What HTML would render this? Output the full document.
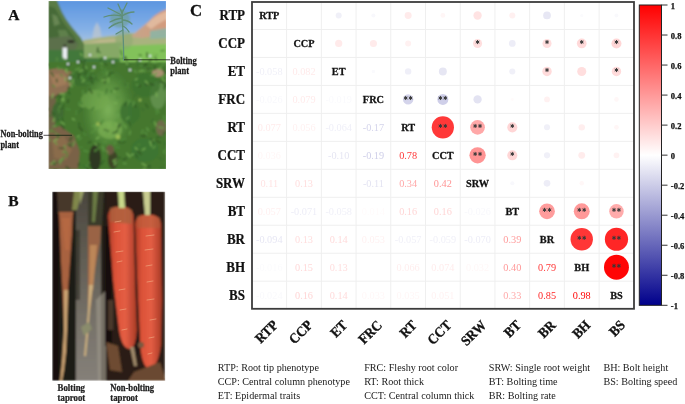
<!DOCTYPE html>
<html><head><meta charset="utf-8"><style>
html,body{margin:0;padding:0;background:#fff;}
body{width:685px;height:404px;position:relative;overflow:hidden;font-family:"Liberation Serif",serif;}
svg text{font-family:"Liberation Serif",serif;}
</style></head><body>
<svg width="685" height="404" style="position:absolute;left:0;top:0"><defs>
<clipPath id="ca"><rect x="48.5" y="1" width="117.5" height="168"/></clipPath>
<clipPath id="cbp"><rect x="52.2" y="191.7" width="113" height="189"/></clipPath>
<filter id="bl" x="-5%" y="-5%" width="110%" height="110%"><feGaussianBlur stdDeviation="1.0"/></filter>
<filter id="bl05" x="-20%" y="-20%" width="140%" height="140%"><feGaussianBlur stdDeviation="0.5"/></filter>
<linearGradient id="sky" x1="0" y1="0" x2="0" y2="1"><stop offset="0" stop-color="#5b95e0"/><stop offset="0.6" stop-color="#84b0e6"/><stop offset="1" stop-color="#b4c9de"/></linearGradient>
<radialGradient id="rgA"><stop offset="0" stop-color="#7fb45a" stop-opacity="0.95"/><stop offset="0.6" stop-color="#6aa24a" stop-opacity="0.6"/><stop offset="1" stop-color="#5a9440" stop-opacity="0"/></radialGradient>
<linearGradient id="mtn" x1="0" y1="0" x2="1" y2="0"><stop offset="0" stop-color="#c4a68c"/><stop offset="1" stop-color="#d49a7c"/></linearGradient>
<linearGradient id="car" x1="0" y1="0" x2="1" y2="0"><stop offset="0" stop-color="#a83a26"/><stop offset="0.25" stop-color="#dc5238"/><stop offset="0.6" stop-color="#e45e44"/><stop offset="1" stop-color="#a83a26"/></linearGradient>
<linearGradient id="gray" x1="0" y1="0" x2="0" y2="1"><stop offset="0" stop-color="#4a463e"/><stop offset="0.3" stop-color="#5e5a50"/><stop offset="0.7" stop-color="#77726a"/><stop offset="1" stop-color="#858079"/></linearGradient>
</defs><g clip-path="url(#ca)"><g filter="url(#bl)">
<rect x="48" y="0" width="119" height="170" fill="#44782f"/>
<rect x="48" y="0" width="119" height="48" fill="url(#sky)"/>
<path d="M92,40 L94,28 L97,22 L100,28 L102,40 Z" fill="#b9c4cf" opacity="0.8"/>
<path d="M76,46 L84,40 L96,38 L110,36 L122,35 L132,33 L167,33 L167,52 L76,52 Z" fill="#a8b37e"/>
<path d="M84,44 L100,40 L116,39 L116,50 L84,50 Z" fill="#c2b890" opacity="0.8"/>
<path d="M130,37 L136,32 L142,27 L148,22 L154,16 L160,12 L167,9 L167,34 L142,38 Z" fill="url(#mtn)"/>
<path d="M146,25 L152,19 L158,15 L167,11 L167,19 L158,24 L151,29 Z" fill="#e8c4aa" opacity="0.7"/>
<path d="M150,31 L167,28 L167,38 L150,39 Z" fill="#8db4a4" opacity="0.9"/>
<path d="M48,0 L57,0 L59,5 L62,12 L66,19 L71,26 L76,32 L81,38 L84,44 L84,52 L48,52 Z" fill="#5a7c44"/>
<path d="M48,6 L55,8 L59,15 L63,22 L69,30 L74,36 L78,44 L48,48 Z" fill="#466a38"/>
<path d="M52,14 L57,16 L60,24 L54,26 Z" fill="#6f8d5a" opacity="0.8"/>
<path d="M58,30 L66,30 L70,38 L60,40 Z" fill="#6a8a56" opacity="0.7"/>
<path d="M48,38 L70,36 L78,44 L74,52 L48,52 Z" fill="#5c6f4c"/>
<rect x="48" y="50" width="119" height="14" fill="#43783a"/>
<path d="M84,44 L122,42 L124,58 L84,58 Z" fill="#86a866"/>
<path d="M120,46 L167,44 L167,62 L120,62 Z" fill="#82c25a"/>
<rect x="62.6" y="47.5" width="4.4" height="11.5" fill="#eceff4"/>
<ellipse cx="64.8" cy="45.8" rx="1.5" ry="1.5" fill="#3a3a30"/>
<ellipse cx="71" cy="41.5" rx="3.6" ry="1.5" fill="#2a2a22"/>
<rect x="48" y="62" width="119" height="108" fill="#44772f"/>
<path d="M48,70 L58,68 L72,72 L72,84 L66,92 L56,96 L48,96 Z" fill="#8e7052"/>
<path d="M50,74 L64,74 L67,84 L54,88 Z" fill="#a07c5a"/>
<path d="M48,96 L56,96 L55,128 L48,130 Z" fill="#6e6444"/>
<path d="M48,130 L60,126 L74,136 L80,152 L78,169 L48,169 Z" fill="#7a6246"/>
<path d="M52,140 L64,136 L72,150 L66,160 L54,158 Z" fill="#8a6c4c"/>
<ellipse cx="58" cy="112" rx="6" ry="10" fill="#3f6a30"/>
<ellipse cx="108" cy="110" rx="26" ry="42" fill="url(#rgA)"/>
<ellipse cx="95" cy="100" rx="14" ry="10" fill="#74aa50" opacity="0.6"/>
<ellipse cx="110" cy="130" rx="12" ry="9" fill="#80b456" opacity="0.6"/>
<ellipse cx="158" cy="95" rx="8" ry="14" fill="#6c9a58" opacity="0.7"/>
<ellipse cx="146" cy="85" rx="14" ry="12" fill="#3d7230" opacity="0.8"/>
<ellipse cx="82" cy="78" rx="14" ry="8" fill="#3c6e2e" opacity="0.8"/>
<ellipse cx="95" cy="158" rx="6" ry="13" fill="#2e3822"/>
<ellipse cx="113" cy="160" rx="5" ry="9" fill="#3c4428"/>
<ellipse cx="110" cy="150" rx="4" ry="5" fill="#6a5a40"/>
<ellipse cx="161" cy="128" rx="5" ry="8" fill="#6e6a48"/>
<ellipse cx="158" cy="73" rx="6" ry="4" fill="#a89070"/>
<ellipse cx="145" cy="150" rx="14" ry="12" fill="#3c7430"/>
<ellipse cx="130" cy="112" rx="10" ry="12" fill="#3d7230" opacity="0.9"/>
<path d="M86.5,68.1 l-1.3,-1.8" stroke="#7cb456" stroke-width="1.4" stroke-linecap="round" opacity="0.85"/>
<path d="M59.2,119.9 l2.2,-1.4" stroke="#2f5a24" stroke-width="1.4" stroke-linecap="round" opacity="0.85"/>
<path d="M99.6,58.4 l2.8,1.8" stroke="#4f8a3a" stroke-width="1.4" stroke-linecap="round" opacity="0.85"/>
<path d="M115.3,163.7 l-2.6,-2.7" stroke="#2f5a24" stroke-width="1.4" stroke-linecap="round" opacity="0.85"/>
<path d="M116.7,97.6 l2.1,-0.3" stroke="#4f8a3a" stroke-width="1.4" stroke-linecap="round" opacity="0.85"/>
<path d="M63.8,100.3 l-3.6,-0.9" stroke="#7cb456" stroke-width="1.4" stroke-linecap="round" opacity="0.85"/>
<path d="M145.1,71.7 l-3.4,-1.9" stroke="#5a9440" stroke-width="1.4" stroke-linecap="round" opacity="0.85"/>
<path d="M59.6,135.5 l-3.5,-1.5" stroke="#68a24a" stroke-width="1.4" stroke-linecap="round" opacity="0.85"/>
<path d="M129.0,101.3 l-1.5,3.5" stroke="#68a24a" stroke-width="1.4" stroke-linecap="round" opacity="0.85"/>
<path d="M91.0,79.8 l1.9,3.9" stroke="#2f5a24" stroke-width="1.4" stroke-linecap="round" opacity="0.85"/>
<path d="M116.4,113.0 l3.0,-3.0" stroke="#5a9440" stroke-width="1.4" stroke-linecap="round" opacity="0.85"/>
<path d="M120.5,58.8 l-2.5,-0.2" stroke="#5a9440" stroke-width="1.4" stroke-linecap="round" opacity="0.85"/>
<path d="M66.1,108.7 l3.9,1.0" stroke="#4f8a3a" stroke-width="1.4" stroke-linecap="round" opacity="0.85"/>
<path d="M114.4,144.7 l1.3,-2.7" stroke="#5a9440" stroke-width="1.4" stroke-linecap="round" opacity="0.85"/>
<path d="M118.7,119.6 l-4.3,1.2" stroke="#5a9440" stroke-width="1.4" stroke-linecap="round" opacity="0.85"/>
<path d="M104.4,129.7 l3.8,1.5" stroke="#2c4c22" stroke-width="1.4" stroke-linecap="round" opacity="0.85"/>
<path d="M116.8,131.7 l-3.9,1.4" stroke="#2c4c22" stroke-width="1.4" stroke-linecap="round" opacity="0.85"/>
<path d="M89.3,162.9 l-2.4,3.0" stroke="#68a24a" stroke-width="1.4" stroke-linecap="round" opacity="0.85"/>
<path d="M55.0,142.2 l1.9,2.0" stroke="#68a24a" stroke-width="1.4" stroke-linecap="round" opacity="0.85"/>
<path d="M157.1,109.6 l1.6,2.8" stroke="#5a9440" stroke-width="1.4" stroke-linecap="round" opacity="0.85"/>
<path d="M153.1,148.3 l1.9,-2.1" stroke="#68a24a" stroke-width="1.4" stroke-linecap="round" opacity="0.85"/>
<path d="M165.4,131.9 l-2.0,1.8" stroke="#2f5a24" stroke-width="1.4" stroke-linecap="round" opacity="0.85"/>
<path d="M69.0,77.8 l0.4,3.4" stroke="#7cb456" stroke-width="1.4" stroke-linecap="round" opacity="0.85"/>
<path d="M69.7,83.8 l2.2,2.9" stroke="#7cb456" stroke-width="1.4" stroke-linecap="round" opacity="0.85"/>
<path d="M115.4,164.4 l-1.3,-3.3" stroke="#7cb456" stroke-width="1.4" stroke-linecap="round" opacity="0.85"/>
<path d="M125.9,138.8 l-4.4,1.2" stroke="#4f8a3a" stroke-width="1.4" stroke-linecap="round" opacity="0.85"/>
<path d="M129.0,117.1 l-2.6,1.9" stroke="#68a24a" stroke-width="1.4" stroke-linecap="round" opacity="0.85"/>
<path d="M123.5,57.5 l2.4,1.1" stroke="#3b6d2d" stroke-width="1.4" stroke-linecap="round" opacity="0.85"/>
<path d="M61.1,122.1 l3.0,2.2" stroke="#7cb456" stroke-width="1.4" stroke-linecap="round" opacity="0.85"/>
<path d="M60.1,93.6 l4.6,0.7" stroke="#7cb456" stroke-width="1.4" stroke-linecap="round" opacity="0.85"/>
<path d="M92.8,126.1 l3.7,-1.1" stroke="#68a24a" stroke-width="1.4" stroke-linecap="round" opacity="0.85"/>
<path d="M62.6,151.9 l3.4,-0.1" stroke="#68a24a" stroke-width="1.4" stroke-linecap="round" opacity="0.85"/>
<path d="M85.1,67.3 l-0.0,-4.2" stroke="#68a24a" stroke-width="1.4" stroke-linecap="round" opacity="0.85"/>
<path d="M146.6,69.4 l4.8,0.7" stroke="#7cb456" stroke-width="1.4" stroke-linecap="round" opacity="0.85"/>
<path d="M91.0,132.8 l3.7,-2.2" stroke="#5a9440" stroke-width="1.4" stroke-linecap="round" opacity="0.85"/>
<path d="M164.4,153.6 l-0.9,-2.6" stroke="#5a9440" stroke-width="1.4" stroke-linecap="round" opacity="0.85"/>
<path d="M156.1,92.7 l0.6,3.6" stroke="#7cb456" stroke-width="1.4" stroke-linecap="round" opacity="0.85"/>
<path d="M87.2,76.8 l1.9,-4.6" stroke="#4f8a3a" stroke-width="1.4" stroke-linecap="round" opacity="0.85"/>
<path d="M71.2,78.7 l-3.6,2.6" stroke="#3b6d2d" stroke-width="1.4" stroke-linecap="round" opacity="0.85"/>
<path d="M109.6,92.7 l2.0,0.4" stroke="#5a9440" stroke-width="1.4" stroke-linecap="round" opacity="0.85"/>
<path d="M104.2,73.2 l-2.4,-1.9" stroke="#4f8a3a" stroke-width="1.4" stroke-linecap="round" opacity="0.85"/>
<path d="M159.5,168.6 l3.0,-0.9" stroke="#3b6d2d" stroke-width="1.4" stroke-linecap="round" opacity="0.85"/>
<path d="M60.2,106.4 l-1.8,2.9" stroke="#7cb456" stroke-width="1.4" stroke-linecap="round" opacity="0.85"/>
<path d="M148.0,107.5 l-2.5,-3.6" stroke="#2f5a24" stroke-width="1.4" stroke-linecap="round" opacity="0.85"/>
<path d="M147.3,64.4 l-3.2,2.7" stroke="#3b6d2d" stroke-width="1.4" stroke-linecap="round" opacity="0.85"/>
<path d="M104.9,71.4 l0.7,-2.9" stroke="#4f8a3a" stroke-width="1.4" stroke-linecap="round" opacity="0.85"/>
<path d="M160.6,136.6 l-4.1,1.0" stroke="#2f5a24" stroke-width="1.4" stroke-linecap="round" opacity="0.85"/>
<path d="M134.3,70.4 l1.7,1.8" stroke="#68a24a" stroke-width="1.4" stroke-linecap="round" opacity="0.85"/>
<path d="M144.0,67.5 l2.3,-4.4" stroke="#2c4c22" stroke-width="1.4" stroke-linecap="round" opacity="0.85"/>
<path d="M159.6,68.7 l-2.0,-0.6" stroke="#4f8a3a" stroke-width="1.4" stroke-linecap="round" opacity="0.85"/>
<path d="M163.5,128.0 l-4.7,-0.8" stroke="#68a24a" stroke-width="1.4" stroke-linecap="round" opacity="0.85"/>
<path d="M165.4,73.4 l1.5,-1.5" stroke="#3b6d2d" stroke-width="1.4" stroke-linecap="round" opacity="0.85"/>
<path d="M82.9,78.9 l-2.4,-1.4" stroke="#68a24a" stroke-width="1.4" stroke-linecap="round" opacity="0.85"/>
<path d="M147.3,57.3 l-0.3,-4.7" stroke="#2c4c22" stroke-width="1.4" stroke-linecap="round" opacity="0.85"/>
<path d="M117.4,158.5 l-4.2,2.3" stroke="#7cb456" stroke-width="1.4" stroke-linecap="round" opacity="0.85"/>
<path d="M63.6,68.2 l-4.6,-0.3" stroke="#4f8a3a" stroke-width="1.4" stroke-linecap="round" opacity="0.85"/>
<path d="M143.1,70.7 l-4.1,0.7" stroke="#7cb456" stroke-width="1.4" stroke-linecap="round" opacity="0.85"/>
<path d="M55.3,131.9 l-3.4,-0.7" stroke="#4f8a3a" stroke-width="1.4" stroke-linecap="round" opacity="0.85"/>
<path d="M60.6,117.2 l0.0,2.8" stroke="#4f8a3a" stroke-width="1.4" stroke-linecap="round" opacity="0.85"/>
<path d="M59.6,104.3 l4.6,0.8" stroke="#2f5a24" stroke-width="1.4" stroke-linecap="round" opacity="0.85"/>
<path d="M100.7,123.5 l-3.5,-0.1" stroke="#2c4c22" stroke-width="1.4" stroke-linecap="round" opacity="0.85"/>
<path d="M81.0,111.0 l1.2,-3.3" stroke="#3b6d2d" stroke-width="1.4" stroke-linecap="round" opacity="0.85"/>
<path d="M131.2,155.2 l2.6,-1.0" stroke="#7cb456" stroke-width="1.4" stroke-linecap="round" opacity="0.85"/>
<path d="M154.2,74.3 l-3.1,1.1" stroke="#68a24a" stroke-width="1.4" stroke-linecap="round" opacity="0.85"/>
<path d="M100.6,58.7 l0.1,2.2" stroke="#2c4c22" stroke-width="1.4" stroke-linecap="round" opacity="0.85"/>
<path d="M84.0,64.7 l0.8,-4.7" stroke="#2c4c22" stroke-width="1.4" stroke-linecap="round" opacity="0.85"/>
<path d="M126.6,67.2 l3.6,-3.3" stroke="#3b6d2d" stroke-width="1.4" stroke-linecap="round" opacity="0.85"/>
<path d="M136.9,61.3 l1.9,-1.6" stroke="#2c4c22" stroke-width="1.4" stroke-linecap="round" opacity="0.85"/>
<path d="M147.1,69.4 l-3.2,1.5" stroke="#5a9440" stroke-width="1.4" stroke-linecap="round" opacity="0.85"/>
<path d="M98.1,92.8 l2.6,1.7" stroke="#5a9440" stroke-width="1.4" stroke-linecap="round" opacity="0.85"/>
<path d="M113.9,102.9 l3.0,0.3" stroke="#7cb456" stroke-width="1.4" stroke-linecap="round" opacity="0.85"/>
<path d="M83.2,165.3 l3.6,3.1" stroke="#3b6d2d" stroke-width="1.4" stroke-linecap="round" opacity="0.85"/>
<path d="M163.6,62.6 l-0.2,2.1" stroke="#4f8a3a" stroke-width="1.4" stroke-linecap="round" opacity="0.85"/>
<path d="M69.6,140.7 l1.9,-4.1" stroke="#2c4c22" stroke-width="1.4" stroke-linecap="round" opacity="0.85"/>
<path d="M145.5,81.0 l2.8,3.8" stroke="#7cb456" stroke-width="1.4" stroke-linecap="round" opacity="0.85"/>
<path d="M106.9,89.2 l-0.8,4.3" stroke="#3b6d2d" stroke-width="1.4" stroke-linecap="round" opacity="0.85"/>
<path d="M98.6,58.7 l3.6,-1.5" stroke="#4f8a3a" stroke-width="1.4" stroke-linecap="round" opacity="0.85"/>
<path d="M79.0,123.0 l0.5,2.8" stroke="#2f5a24" stroke-width="1.4" stroke-linecap="round" opacity="0.85"/>
<path d="M102.0,90.7 l-4.5,-1.6" stroke="#5a9440" stroke-width="1.4" stroke-linecap="round" opacity="0.85"/>
<path d="M122.0,55.2 l-1.2,-4.7" stroke="#3b6d2d" stroke-width="1.4" stroke-linecap="round" opacity="0.85"/>
<path d="M79.2,71.7 l3.5,-1.6" stroke="#7cb456" stroke-width="1.4" stroke-linecap="round" opacity="0.85"/>
<path d="M138.4,84.8 l-2.5,-0.0" stroke="#5a9440" stroke-width="1.4" stroke-linecap="round" opacity="0.85"/>
<path d="M143.6,169.3 l2.0,0.5" stroke="#7cb456" stroke-width="1.4" stroke-linecap="round" opacity="0.85"/>
<path d="M113.6,72.7 l-4.7,0.8" stroke="#2f5a24" stroke-width="1.4" stroke-linecap="round" opacity="0.85"/>
<path d="M126.3,128.0 l-2.0,-3.0" stroke="#68a24a" stroke-width="1.4" stroke-linecap="round" opacity="0.85"/>
<path d="M163.5,86.9 l0.6,2.6" stroke="#3b6d2d" stroke-width="1.4" stroke-linecap="round" opacity="0.85"/>
<path d="M147.0,134.8 l-2.1,-2.4" stroke="#5a9440" stroke-width="1.4" stroke-linecap="round" opacity="0.85"/>
<path d="M164.8,150.4 l3.9,0.3" stroke="#5a9440" stroke-width="1.4" stroke-linecap="round" opacity="0.85"/>
<path d="M99.3,56.6 l-1.6,-2.7" stroke="#7cb456" stroke-width="1.4" stroke-linecap="round" opacity="0.85"/>
<path d="M127.8,83.8 l0.1,2.9" stroke="#68a24a" stroke-width="1.4" stroke-linecap="round" opacity="0.85"/>
<path d="M70.1,82.3 l3.1,0.1" stroke="#5a9440" stroke-width="1.4" stroke-linecap="round" opacity="0.85"/>
<path d="M163.7,115.6 l0.2,4.9" stroke="#5a9440" stroke-width="1.4" stroke-linecap="round" opacity="0.85"/>
<path d="M73.9,72.0 l-1.2,1.9" stroke="#5a9440" stroke-width="1.4" stroke-linecap="round" opacity="0.85"/>
<path d="M107.8,74.1 l-2.0,-0.1" stroke="#5a9440" stroke-width="1.4" stroke-linecap="round" opacity="0.85"/>
<path d="M145.2,67.3 l-2.7,-1.7" stroke="#5a9440" stroke-width="1.4" stroke-linecap="round" opacity="0.85"/>
<path d="M84.2,77.9 l-3.1,-1.8" stroke="#4f8a3a" stroke-width="1.4" stroke-linecap="round" opacity="0.85"/>
<path d="M66.5,157.1 l0.8,-3.7" stroke="#4f8a3a" stroke-width="1.4" stroke-linecap="round" opacity="0.85"/>
<path d="M86.8,168.2 l2.5,3.4" stroke="#2c4c22" stroke-width="1.4" stroke-linecap="round" opacity="0.85"/>
<path d="M65.2,149.0 l-0.8,-3.5" stroke="#68a24a" stroke-width="1.4" stroke-linecap="round" opacity="0.85"/>
<path d="M135.3,147.5 l2.3,2.7" stroke="#7cb456" stroke-width="1.4" stroke-linecap="round" opacity="0.85"/>
<path d="M115.6,147.5 l4.0,0.4" stroke="#4f8a3a" stroke-width="1.4" stroke-linecap="round" opacity="0.85"/>
<path d="M154.2,131.9 l-0.9,-2.5" stroke="#2f5a24" stroke-width="1.4" stroke-linecap="round" opacity="0.85"/>
<path d="M53.0,126.5 l3.0,-0.8" stroke="#68a24a" stroke-width="1.4" stroke-linecap="round" opacity="0.85"/>
<path d="M114.5,125.3 l-2.8,-2.9" stroke="#68a24a" stroke-width="1.4" stroke-linecap="round" opacity="0.85"/>
<path d="M79.4,104.8 l4.3,2.0" stroke="#7cb456" stroke-width="1.4" stroke-linecap="round" opacity="0.85"/>
<path d="M58.9,113.1 l-0.1,-3.4" stroke="#4f8a3a" stroke-width="1.4" stroke-linecap="round" opacity="0.85"/>
<path d="M56.9,81.9 l-0.3,-2.6" stroke="#2c4c22" stroke-width="1.4" stroke-linecap="round" opacity="0.85"/>
<path d="M125.3,105.2 l1.3,-1.8" stroke="#2c4c22" stroke-width="1.4" stroke-linecap="round" opacity="0.85"/>
<path d="M82.2,55.6 l-1.7,-1.9" stroke="#7cb456" stroke-width="1.4" stroke-linecap="round" opacity="0.85"/>
<path d="M65.5,80.5 l-0.1,-2.9" stroke="#7cb456" stroke-width="1.4" stroke-linecap="round" opacity="0.85"/>
<path d="M63.9,107.9 l-4.9,0.4" stroke="#2f5a24" stroke-width="1.4" stroke-linecap="round" opacity="0.85"/>
<path d="M130.4,131.1 l-0.9,3.4" stroke="#68a24a" stroke-width="1.4" stroke-linecap="round" opacity="0.85"/>
<path d="M103.4,142.1 l3.6,-0.2" stroke="#5a9440" stroke-width="1.4" stroke-linecap="round" opacity="0.85"/>
<path d="M164.4,162.4 l3.4,0.4" stroke="#4f8a3a" stroke-width="1.4" stroke-linecap="round" opacity="0.85"/>
<path d="M108.3,169.4 l3.2,-0.1" stroke="#3b6d2d" stroke-width="1.4" stroke-linecap="round" opacity="0.85"/>
<path d="M56.9,60.8 l-0.0,-2.8" stroke="#5a9440" stroke-width="1.4" stroke-linecap="round" opacity="0.85"/>
<path d="M63.8,148.4 l-4.7,-0.3" stroke="#2c4c22" stroke-width="1.4" stroke-linecap="round" opacity="0.85"/>
<path d="M91.5,109.7 l2.3,-2.2" stroke="#3b6d2d" stroke-width="1.4" stroke-linecap="round" opacity="0.85"/>
<path d="M48.4,109.0 l-2.8,0.9" stroke="#3b6d2d" stroke-width="1.4" stroke-linecap="round" opacity="0.85"/>
<path d="M97.5,95.1 l2.2,2.1" stroke="#5a9440" stroke-width="1.4" stroke-linecap="round" opacity="0.85"/>
<path d="M137.3,150.7 l3.5,3.3" stroke="#2c4c22" stroke-width="1.4" stroke-linecap="round" opacity="0.85"/>
<path d="M49.4,138.8 l-0.0,2.2" stroke="#68a24a" stroke-width="1.4" stroke-linecap="round" opacity="0.85"/>
<path d="M166.9,120.7 l-2.1,2.5" stroke="#5a9440" stroke-width="1.4" stroke-linecap="round" opacity="0.85"/>
<path d="M149.7,83.7 l3.8,1.3" stroke="#2c4c22" stroke-width="1.4" stroke-linecap="round" opacity="0.85"/>
<path d="M159.3,79.9 l-0.3,3.5" stroke="#3b6d2d" stroke-width="1.4" stroke-linecap="round" opacity="0.85"/>
<path d="M140.0,144.2 l-1.9,0.9" stroke="#4f8a3a" stroke-width="1.4" stroke-linecap="round" opacity="0.85"/>
<path d="M123.1,159.6 l3.4,-1.3" stroke="#2c4c22" stroke-width="1.4" stroke-linecap="round" opacity="0.85"/>
<path d="M57.6,162.0 l-3.3,2.0" stroke="#3b6d2d" stroke-width="1.4" stroke-linecap="round" opacity="0.85"/>
<path d="M124.7,84.3 l4.6,1.4" stroke="#3b6d2d" stroke-width="1.4" stroke-linecap="round" opacity="0.85"/>
<path d="M68.3,99.8 l-0.5,2.7" stroke="#2c4c22" stroke-width="1.4" stroke-linecap="round" opacity="0.85"/>
<path d="M164.2,81.2 l-1.6,-2.4" stroke="#7cb456" stroke-width="1.4" stroke-linecap="round" opacity="0.85"/>
<path d="M127.6,64.4 l-1.4,-1.7" stroke="#7cb456" stroke-width="1.4" stroke-linecap="round" opacity="0.85"/>
<path d="M155.8,109.6 l0.9,4.6" stroke="#4f8a3a" stroke-width="1.4" stroke-linecap="round" opacity="0.85"/>
<path d="M101.5,66.8 l0.8,2.1" stroke="#5a9440" stroke-width="1.4" stroke-linecap="round" opacity="0.85"/>
<path d="M114.1,88.3 l-3.0,3.3" stroke="#3b6d2d" stroke-width="1.4" stroke-linecap="round" opacity="0.85"/>
<path d="M153.6,140.0 l-2.8,1.7" stroke="#7cb456" stroke-width="1.4" stroke-linecap="round" opacity="0.85"/>
<path d="M73.0,82.4 l0.0,-3.5" stroke="#7cb456" stroke-width="1.4" stroke-linecap="round" opacity="0.85"/>
<path d="M163.2,65.1 l-3.9,-0.1" stroke="#4f8a3a" stroke-width="1.4" stroke-linecap="round" opacity="0.85"/>
<path d="M149.0,61.1 l2.5,-1.9" stroke="#2c4c22" stroke-width="1.4" stroke-linecap="round" opacity="0.85"/>
<path d="M101.1,164.5 l2.7,-3.8" stroke="#2f5a24" stroke-width="1.4" stroke-linecap="round" opacity="0.85"/>
<path d="M63.1,101.0 l0.4,-4.4" stroke="#7cb456" stroke-width="1.4" stroke-linecap="round" opacity="0.85"/>
<path d="M106.3,58.8 l4.3,-2.0" stroke="#7cb456" stroke-width="1.4" stroke-linecap="round" opacity="0.85"/>
<path d="M149.8,166.7 l0.0,2.3" stroke="#3b6d2d" stroke-width="1.4" stroke-linecap="round" opacity="0.85"/>
<path d="M66.1,166.6 l3.5,2.8" stroke="#2c4c22" stroke-width="1.4" stroke-linecap="round" opacity="0.85"/>
<path d="M125.0,141.8 l-3.5,1.0" stroke="#2f5a24" stroke-width="1.4" stroke-linecap="round" opacity="0.85"/>
<path d="M48.2,65.1 l-1.9,-0.9" stroke="#2c4c22" stroke-width="1.4" stroke-linecap="round" opacity="0.85"/>
<path d="M84.2,65.4 l-0.0,3.9" stroke="#2c4c22" stroke-width="1.4" stroke-linecap="round" opacity="0.85"/>
<path d="M138.9,61.9 l-1.5,4.6" stroke="#3b6d2d" stroke-width="1.4" stroke-linecap="round" opacity="0.85"/>
<path d="M94.2,76.8 l-1.6,-1.2" stroke="#5a9440" stroke-width="1.4" stroke-linecap="round" opacity="0.85"/>
<path d="M166.6,83.4 l-1.8,4.1" stroke="#3b6d2d" stroke-width="1.4" stroke-linecap="round" opacity="0.85"/>
<path d="M104.6,78.2 l0.1,4.9" stroke="#2c4c22" stroke-width="1.4" stroke-linecap="round" opacity="0.85"/>
<path d="M125.3,56.6 l1.6,4.4" stroke="#2c4c22" stroke-width="1.4" stroke-linecap="round" opacity="0.85"/>
<path d="M98.0,80.9 l-2.4,-4.1" stroke="#3b6d2d" stroke-width="1.4" stroke-linecap="round" opacity="0.85"/>
<path d="M106.7,133.5 l-0.6,-3.0" stroke="#68a24a" stroke-width="1.4" stroke-linecap="round" opacity="0.85"/>
<path d="M71.6,145.6 l-0.2,-3.5" stroke="#3b6d2d" stroke-width="1.4" stroke-linecap="round" opacity="0.85"/>
<path d="M107.0,74.0 l0.3,-2.6" stroke="#68a24a" stroke-width="1.4" stroke-linecap="round" opacity="0.85"/>
<path d="M74.4,141.3 l-1.4,4.7" stroke="#68a24a" stroke-width="1.4" stroke-linecap="round" opacity="0.85"/>
<path d="M120.6,157.6 l-4.7,0.4" stroke="#2f5a24" stroke-width="1.4" stroke-linecap="round" opacity="0.85"/>
<path d="M160.9,67.6 l-2.1,1.6" stroke="#7cb456" stroke-width="1.4" stroke-linecap="round" opacity="0.85"/>
<path d="M55.2,97.2 l3.7,-2.8" stroke="#2c4c22" stroke-width="1.4" stroke-linecap="round" opacity="0.85"/>
<path d="M67.7,72.9 l-2.1,-2.9" stroke="#68a24a" stroke-width="1.4" stroke-linecap="round" opacity="0.85"/>
<path d="M51.8,129.7 l-2.3,2.2" stroke="#5a9440" stroke-width="1.4" stroke-linecap="round" opacity="0.85"/>
<path d="M100.6,63.1 l2.0,1.1" stroke="#68a24a" stroke-width="1.4" stroke-linecap="round" opacity="0.85"/>
<path d="M161.7,64.8 l2.6,-0.6" stroke="#5a9440" stroke-width="1.4" stroke-linecap="round" opacity="0.85"/>
<path d="M139.5,87.0 l0.8,-2.1" stroke="#2c4c22" stroke-width="1.4" stroke-linecap="round" opacity="0.85"/>
<path d="M104.3,94.7 l2.3,-1.2" stroke="#5a9440" stroke-width="1.4" stroke-linecap="round" opacity="0.85"/>
<path d="M135.7,106.9 l-1.9,-2.0" stroke="#2c4c22" stroke-width="1.4" stroke-linecap="round" opacity="0.85"/>
<path d="M139.2,54.9 l2.1,0.5" stroke="#2f5a24" stroke-width="1.4" stroke-linecap="round" opacity="0.85"/>
<path d="M78.6,139.7 l2.4,-1.8" stroke="#5a9440" stroke-width="1.4" stroke-linecap="round" opacity="0.85"/>
<path d="M87.9,164.5 l4.1,1.1" stroke="#2c4c22" stroke-width="1.4" stroke-linecap="round" opacity="0.85"/>
<path d="M85.7,83.1 l4.3,0.1" stroke="#4f8a3a" stroke-width="1.4" stroke-linecap="round" opacity="0.85"/>
<path d="M123.4,163.2 l2.7,0.4" stroke="#68a24a" stroke-width="1.4" stroke-linecap="round" opacity="0.85"/>
<path d="M133.2,105.9 l0.7,-4.3" stroke="#68a24a" stroke-width="1.4" stroke-linecap="round" opacity="0.85"/>
<path d="M145.0,65.9 l-2.0,0.0" stroke="#2c4c22" stroke-width="1.4" stroke-linecap="round" opacity="0.85"/>
<path d="M84.1,133.1 l1.6,2.2" stroke="#4f8a3a" stroke-width="1.4" stroke-linecap="round" opacity="0.85"/>
<path d="M86.0,93.4 l0.5,-2.2" stroke="#3b6d2d" stroke-width="1.4" stroke-linecap="round" opacity="0.85"/>
<path d="M94.6,69.2 l-3.3,2.2" stroke="#68a24a" stroke-width="1.4" stroke-linecap="round" opacity="0.85"/>
<path d="M113.8,89.1 l4.6,-0.6" stroke="#2f5a24" stroke-width="1.4" stroke-linecap="round" opacity="0.85"/>
<path d="M79.5,60.1 l2.9,2.0" stroke="#2c4c22" stroke-width="1.4" stroke-linecap="round" opacity="0.85"/>
<path d="M163.7,70.8 l2.3,2.5" stroke="#2c4c22" stroke-width="1.4" stroke-linecap="round" opacity="0.85"/>
<path d="M76.0,114.6 l0.6,-4.2" stroke="#4f8a3a" stroke-width="1.4" stroke-linecap="round" opacity="0.85"/>
<path d="M148.1,85.3 l-2.8,-1.3" stroke="#2c4c22" stroke-width="1.4" stroke-linecap="round" opacity="0.85"/>
<path d="M79.0,102.7 l1.1,2.5" stroke="#5a9440" stroke-width="1.4" stroke-linecap="round" opacity="0.85"/>
<path d="M153.2,119.4 l-1.5,2.8" stroke="#3b6d2d" stroke-width="1.4" stroke-linecap="round" opacity="0.85"/>
<path d="M108.4,77.8 l1.4,-3.7" stroke="#2f5a24" stroke-width="1.4" stroke-linecap="round" opacity="0.85"/>
<path d="M60.2,107.0 l1.9,-4.1" stroke="#5a9440" stroke-width="1.4" stroke-linecap="round" opacity="0.85"/>
<path d="M52.8,85.2 l1.9,1.7" stroke="#4f8a3a" stroke-width="1.4" stroke-linecap="round" opacity="0.85"/>
<path d="M117.4,161.6 l-3.2,3.3" stroke="#68a24a" stroke-width="1.4" stroke-linecap="round" opacity="0.85"/>
<path d="M119.8,143.0 l-1.0,-1.7" stroke="#2c4c22" stroke-width="1.4" stroke-linecap="round" opacity="0.85"/>
<path d="M118.9,124.4 l0.6,3.0" stroke="#3b6d2d" stroke-width="1.4" stroke-linecap="round" opacity="0.85"/>
<path d="M53.3,170.0 l4.1,1.0" stroke="#3b6d2d" stroke-width="1.4" stroke-linecap="round" opacity="0.85"/>
<path d="M145.0,148.3 l-2.6,1.7" stroke="#7cb456" stroke-width="1.4" stroke-linecap="round" opacity="0.85"/>
<path d="M85.2,74.4 l1.0,-3.5" stroke="#2f5a24" stroke-width="1.4" stroke-linecap="round" opacity="0.85"/>
<path d="M96.6,145.5 l-1.3,-2.1" stroke="#7cb456" stroke-width="1.4" stroke-linecap="round" opacity="0.85"/>
<path d="M58.8,69.6 l-1.1,-3.0" stroke="#5a9440" stroke-width="1.4" stroke-linecap="round" opacity="0.85"/>
<path d="M127.5,100.1 l4.0,1.3" stroke="#5a9440" stroke-width="1.4" stroke-linecap="round" opacity="0.85"/>
<path d="M97.3,52.2 l0.5,-4.4" stroke="#2c4c22" stroke-width="1.4" stroke-linecap="round" opacity="0.85"/>
<path d="M71.5,137.4 l0.6,1.9" stroke="#3b6d2d" stroke-width="1.4" stroke-linecap="round" opacity="0.85"/>
<path d="M98.4,148.4 l-3.9,2.6" stroke="#68a24a" stroke-width="1.4" stroke-linecap="round" opacity="0.85"/>
<path d="M140.0,65.6 l2.3,0.8" stroke="#4f8a3a" stroke-width="1.4" stroke-linecap="round" opacity="0.85"/>
<path d="M156.3,60.7 l-2.2,-2.2" stroke="#7cb456" stroke-width="1.4" stroke-linecap="round" opacity="0.85"/>
<path d="M68.4,91.8 l1.3,2.1" stroke="#2f5a24" stroke-width="1.4" stroke-linecap="round" opacity="0.85"/>
<path d="M60.9,108.9 l1.7,-4.6" stroke="#3b6d2d" stroke-width="1.4" stroke-linecap="round" opacity="0.85"/>
<path d="M83.9,150.5 l4.6,1.3" stroke="#5a9440" stroke-width="1.4" stroke-linecap="round" opacity="0.85"/>
<path d="M54.4,161.1 l-3.6,3.1" stroke="#7cb456" stroke-width="1.4" stroke-linecap="round" opacity="0.85"/>
<path d="M129.9,156.9 l-2.9,-3.5" stroke="#7cb456" stroke-width="1.4" stroke-linecap="round" opacity="0.85"/>
<path d="M96.1,151.6 l1.2,-2.2" stroke="#3b6d2d" stroke-width="1.4" stroke-linecap="round" opacity="0.85"/>
<path d="M53.0,162.6 l1.7,2.6" stroke="#3b6d2d" stroke-width="1.4" stroke-linecap="round" opacity="0.85"/>
<path d="M77.4,137.0 l1.7,-1.3" stroke="#7cb456" stroke-width="1.4" stroke-linecap="round" opacity="0.85"/>
<path d="M148.3,130.7 l-1.5,-2.6" stroke="#68a24a" stroke-width="1.4" stroke-linecap="round" opacity="0.85"/>
<path d="M119.3,116.0 l-2.0,-2.1" stroke="#68a24a" stroke-width="1.4" stroke-linecap="round" opacity="0.85"/>
<path d="M84.7,79.9 l-2.4,2.0" stroke="#7cb456" stroke-width="1.4" stroke-linecap="round" opacity="0.85"/>
<path d="M100.2,52.8 l-2.5,-2.4" stroke="#3b6d2d" stroke-width="1.4" stroke-linecap="round" opacity="0.85"/>
<path d="M101.2,124.2 l1.9,-4.1" stroke="#4f8a3a" stroke-width="1.4" stroke-linecap="round" opacity="0.85"/>
<path d="M104.3,62.8 l2.3,2.4" stroke="#2f5a24" stroke-width="1.4" stroke-linecap="round" opacity="0.85"/>
<path d="M143.5,110.5 l-1.2,-1.8" stroke="#3b6d2d" stroke-width="1.4" stroke-linecap="round" opacity="0.85"/>
<path d="M57.8,138.0 l0.6,-3.5" stroke="#2f5a24" stroke-width="1.4" stroke-linecap="round" opacity="0.85"/>
<path d="M137.5,157.4 l-2.5,-3.6" stroke="#2f5a24" stroke-width="1.4" stroke-linecap="round" opacity="0.85"/>
<path d="M150.0,169.5 l-0.5,-4.4" stroke="#3b6d2d" stroke-width="1.4" stroke-linecap="round" opacity="0.85"/>
<path d="M63.7,156.3 l-1.0,4.3" stroke="#4f8a3a" stroke-width="1.4" stroke-linecap="round" opacity="0.85"/>
<path d="M67.6,144.6 l2.0,-0.9" stroke="#5a9440" stroke-width="1.4" stroke-linecap="round" opacity="0.85"/>
<path d="M120.6,80.3 l-1.7,3.4" stroke="#4f8a3a" stroke-width="1.4" stroke-linecap="round" opacity="0.85"/>
<path d="M102.3,80.5 l3.4,-0.8" stroke="#7cb456" stroke-width="1.4" stroke-linecap="round" opacity="0.85"/>
<path d="M79.3,110.7 l-0.9,1.9" stroke="#3b6d2d" stroke-width="1.4" stroke-linecap="round" opacity="0.85"/>
<path d="M96.0,126.4 l-0.5,2.9" stroke="#68a24a" stroke-width="1.4" stroke-linecap="round" opacity="0.85"/>
<path d="M68.1,144.2 l2.7,2.4" stroke="#2c4c22" stroke-width="1.4" stroke-linecap="round" opacity="0.85"/>
<path d="M150.1,165.9 l-3.4,1.0" stroke="#2c4c22" stroke-width="1.4" stroke-linecap="round" opacity="0.85"/>
<path d="M153.0,62.6 l3.9,-0.2" stroke="#68a24a" stroke-width="1.4" stroke-linecap="round" opacity="0.85"/>
<path d="M135.8,94.6 l-2.2,2.2" stroke="#3b6d2d" stroke-width="1.4" stroke-linecap="round" opacity="0.85"/>
<path d="M90.9,141.8 l-2.4,0.9" stroke="#2c4c22" stroke-width="1.4" stroke-linecap="round" opacity="0.85"/>
<path d="M162.0,85.6 l-2.9,-0.3" stroke="#4f8a3a" stroke-width="1.4" stroke-linecap="round" opacity="0.85"/>
<path d="M117.7,129.6 l-0.8,1.9" stroke="#2f5a24" stroke-width="1.4" stroke-linecap="round" opacity="0.85"/>
<path d="M74.4,84.9 l-2.3,-2.3" stroke="#5a9440" stroke-width="1.4" stroke-linecap="round" opacity="0.85"/>
<path d="M154.6,65.8 l0.6,3.9" stroke="#2f5a24" stroke-width="1.4" stroke-linecap="round" opacity="0.85"/>
<path d="M54.5,118.1 l-1.2,3.4" stroke="#7cb456" stroke-width="1.4" stroke-linecap="round" opacity="0.85"/>
<path d="M74.7,120.0 l-2.2,-1.4" stroke="#7cb456" stroke-width="1.4" stroke-linecap="round" opacity="0.85"/>
<path d="M146.6,69.0 l4.4,0.4" stroke="#2c4c22" stroke-width="1.4" stroke-linecap="round" opacity="0.85"/>
<path d="M65.8,61.5 l-3.0,-3.5" stroke="#4f8a3a" stroke-width="1.4" stroke-linecap="round" opacity="0.85"/>
<path d="M80.1,147.4 l2.1,-0.4" stroke="#4f8a3a" stroke-width="1.4" stroke-linecap="round" opacity="0.85"/>
<path d="M114.9,92.0 l-2.0,-2.6" stroke="#7cb456" stroke-width="1.4" stroke-linecap="round" opacity="0.85"/>
<path d="M135.3,79.8 l1.8,-1.2" stroke="#7cb456" stroke-width="1.4" stroke-linecap="round" opacity="0.85"/>
<path d="M51.0,72.3 l2.6,4.0" stroke="#2f5a24" stroke-width="1.4" stroke-linecap="round" opacity="0.85"/>
<path d="M49.5,116.1 l2.3,-0.9" stroke="#3b6d2d" stroke-width="1.4" stroke-linecap="round" opacity="0.85"/>
<path d="M109.7,127.1 l-1.9,-2.6" stroke="#7cb456" stroke-width="1.4" stroke-linecap="round" opacity="0.85"/>
<path d="M68.8,87.1 l-0.7,2.0" stroke="#2c4c22" stroke-width="1.4" stroke-linecap="round" opacity="0.85"/>
<path d="M141.2,135.8 l4.5,0.2" stroke="#2c4c22" stroke-width="1.4" stroke-linecap="round" opacity="0.85"/>
<path d="M156.6,59.7 l-1.4,-2.1" stroke="#2f5a24" stroke-width="1.4" stroke-linecap="round" opacity="0.85"/>
<path d="M79.1,127.3 l3.3,3.3" stroke="#2c4c22" stroke-width="1.4" stroke-linecap="round" opacity="0.85"/>
<path d="M160.2,81.6 l3.7,1.3" stroke="#2c4c22" stroke-width="1.4" stroke-linecap="round" opacity="0.85"/>
<path d="M99.9,144.6 l-2.8,-0.4" stroke="#2c4c22" stroke-width="1.4" stroke-linecap="round" opacity="0.85"/>
<path d="M158.5,157.3 l3.0,1.8" stroke="#3b6d2d" stroke-width="1.4" stroke-linecap="round" opacity="0.85"/>
<path d="M79.0,78.3 l-0.2,-4.8" stroke="#2c4c22" stroke-width="1.4" stroke-linecap="round" opacity="0.85"/>
<path d="M156.9,73.0 l-2.9,2.4" stroke="#68a24a" stroke-width="1.4" stroke-linecap="round" opacity="0.85"/>
<path d="M156.0,125.7 l-1.4,-3.7" stroke="#7cb456" stroke-width="1.4" stroke-linecap="round" opacity="0.85"/>
<path d="M103.9,150.8 l-1.5,-4.3" stroke="#68a24a" stroke-width="1.4" stroke-linecap="round" opacity="0.85"/>
<path d="M161.7,78.1 l3.3,-2.9" stroke="#68a24a" stroke-width="1.4" stroke-linecap="round" opacity="0.85"/>
<path d="M122.1,59.3 l2.1,-1.3" stroke="#2f5a24" stroke-width="1.4" stroke-linecap="round" opacity="0.85"/>
<path d="M61.3,124.6 l2.6,4.2" stroke="#2c4c22" stroke-width="1.4" stroke-linecap="round" opacity="0.85"/>
<path d="M130.4,126.1 l-1.4,-4.0" stroke="#2f5a24" stroke-width="1.4" stroke-linecap="round" opacity="0.85"/>
<path d="M149.9,141.4 l1.5,4.6" stroke="#7cb456" stroke-width="1.4" stroke-linecap="round" opacity="0.85"/>
<path d="M154.1,57.9 l3.2,-3.5" stroke="#68a24a" stroke-width="1.4" stroke-linecap="round" opacity="0.85"/>
<path d="M60.7,74.7 l1.6,1.4" stroke="#4f8a3a" stroke-width="1.4" stroke-linecap="round" opacity="0.85"/>
<path d="M156.4,140.5 l3.6,2.2" stroke="#2c4c22" stroke-width="1.4" stroke-linecap="round" opacity="0.85"/>
<path d="M82.2,62.0 l3.5,2.5" stroke="#3b6d2d" stroke-width="1.4" stroke-linecap="round" opacity="0.85"/>
<path d="M83.0,90.4 l-0.2,3.0" stroke="#5a9440" stroke-width="1.4" stroke-linecap="round" opacity="0.85"/>
<path d="M53.8,141.2 l3.6,-2.3" stroke="#7cb456" stroke-width="1.4" stroke-linecap="round" opacity="0.85"/>
<path d="M107.9,152.2 l-1.5,-1.4" stroke="#68a24a" stroke-width="1.4" stroke-linecap="round" opacity="0.85"/>
<path d="M51.7,112.2 l2.8,2.0" stroke="#2f5a24" stroke-width="1.4" stroke-linecap="round" opacity="0.85"/>
<path d="M112.0,76.0 l1.5,-1.7" stroke="#4f8a3a" stroke-width="1.4" stroke-linecap="round" opacity="0.85"/>
<path d="M82.2,102.3 l-2.8,-0.4" stroke="#4f8a3a" stroke-width="1.4" stroke-linecap="round" opacity="0.85"/>
<path d="M164.4,50.5 l-3.5,0.2" stroke="#4f8a3a" stroke-width="1.4" stroke-linecap="round" opacity="0.85"/>
<path d="M146.2,166.1 l-4.1,-2.7" stroke="#7cb456" stroke-width="1.4" stroke-linecap="round" opacity="0.85"/>
<path d="M79.0,163.3 l-0.6,2.6" stroke="#2c4c22" stroke-width="1.4" stroke-linecap="round" opacity="0.85"/>
<path d="M75.6,69.9 l4.0,-1.6" stroke="#68a24a" stroke-width="1.4" stroke-linecap="round" opacity="0.85"/>
<path d="M141.8,133.7 l0.9,-3.8" stroke="#5a9440" stroke-width="1.4" stroke-linecap="round" opacity="0.85"/>
<path d="M59.3,161.4 l3.3,-2.7" stroke="#68a24a" stroke-width="1.4" stroke-linecap="round" opacity="0.85"/>
<path d="M153.7,53.0 l0.8,2.7" stroke="#7cb456" stroke-width="1.4" stroke-linecap="round" opacity="0.85"/>
<path d="M107.6,95.5 l2.0,-1.8" stroke="#68a24a" stroke-width="1.4" stroke-linecap="round" opacity="0.85"/>
<path d="M63.1,121.3 l-1.4,-3.5" stroke="#2f5a24" stroke-width="1.4" stroke-linecap="round" opacity="0.85"/>
<path d="M89.5,89.2 l2.5,3.8" stroke="#2c4c22" stroke-width="1.4" stroke-linecap="round" opacity="0.85"/>
<path d="M113.9,88.8 l-4.0,0.9" stroke="#5a9440" stroke-width="1.4" stroke-linecap="round" opacity="0.85"/>
<path d="M116.9,65.1 l-4.5,1.1" stroke="#3b6d2d" stroke-width="1.4" stroke-linecap="round" opacity="0.85"/>
<path d="M108.4,82.1 l0.1,-4.5" stroke="#7cb456" stroke-width="1.4" stroke-linecap="round" opacity="0.85"/>
<path d="M66.4,68.7 l0.0,3.0" stroke="#7cb456" stroke-width="1.4" stroke-linecap="round" opacity="0.85"/>
<path d="M89.5,78.3 l2.7,-0.8" stroke="#2c4c22" stroke-width="1.4" stroke-linecap="round" opacity="0.85"/>
<path d="M166.4,69.8 l-1.4,-2.2" stroke="#3b6d2d" stroke-width="1.4" stroke-linecap="round" opacity="0.85"/>
<path d="M165.1,145.4 l-0.3,-3.3" stroke="#3b6d2d" stroke-width="1.4" stroke-linecap="round" opacity="0.85"/>
<path d="M61.0,159.4 l-0.9,4.6" stroke="#68a24a" stroke-width="1.4" stroke-linecap="round" opacity="0.85"/>
<path d="M52.0,97.9 l1.0,-3.9" stroke="#7cb456" stroke-width="1.4" stroke-linecap="round" opacity="0.85"/>
<path d="M164.7,85.5 l2.7,0.4" stroke="#2c4c22" stroke-width="1.4" stroke-linecap="round" opacity="0.85"/>
<path d="M96.2,138.9 l2.8,-1.8" stroke="#7cb456" stroke-width="1.4" stroke-linecap="round" opacity="0.85"/>
<path d="M117.9,127.7 l2.3,-3.3" stroke="#2c4c22" stroke-width="1.4" stroke-linecap="round" opacity="0.85"/>
<path d="M152.7,142.9 l-1.4,-4.3" stroke="#2c4c22" stroke-width="1.4" stroke-linecap="round" opacity="0.85"/>
<path d="M69.6,64.9 l-2.5,1.1" stroke="#2c4c22" stroke-width="1.4" stroke-linecap="round" opacity="0.85"/>
<path d="M59.6,100.3 l0.8,-4.1" stroke="#2c4c22" stroke-width="1.4" stroke-linecap="round" opacity="0.85"/>
<path d="M66.6,151.9 l-2.0,0.2" stroke="#4f8a3a" stroke-width="1.4" stroke-linecap="round" opacity="0.85"/>
<circle cx="118" cy="137" r="2.4" fill="#a8c85a" opacity="0.8"/>
<circle cx="98" cy="124" r="2.0" fill="#a8c85a" opacity="0.8"/>
<circle cx="140" cy="100" r="1.5" fill="#a8c85a" opacity="0.8"/>
<circle cx="68" cy="64" r="1.2" fill="#dfe4ec"/>
<circle cx="78" cy="62" r="1.2" fill="#dfe4ec"/>
<circle cx="94" cy="67" r="1.2" fill="#dfe4ec"/>
<circle cx="113" cy="62" r="1.2" fill="#dfe4ec"/>
<circle cx="130" cy="70" r="1.2" fill="#dfe4ec"/>
<circle cx="90" cy="55" r="1.2" fill="#dfe4ec"/>
<circle cx="140" cy="60" r="1.2" fill="#dfe4ec"/>
<circle cx="150" cy="56" r="1.2" fill="#dfe4ec"/>
<circle cx="70" cy="78" r="1.2" fill="#dfe4ec"/>
<circle cx="105" cy="58" r="1.2" fill="#dfe4ec"/>
<ellipse cx="120" cy="19" rx="10" ry="9" fill="#6e9c86" opacity="0.55"/>
<ellipse cx="124" cy="40" rx="9" ry="10" fill="#8aa870" opacity="0.5"/>
</g>
<g stroke="#5f8f78" stroke-width="1.3" fill="none" stroke-linecap="round" filter="url(#bl05)">
<path d="M123.8,60 L123.3,40 L122.5,22 L122,10"/>
<path d="M121.5,16 Q112,14 104,17"/>
<path d="M121.5,15 Q114,11 108,8"/>
<path d="M122,13 L118,4"/>
<path d="M122,13 L127,3"/>
<path d="M122,16 Q128,12 134,12"/>
<path d="M122,20 Q128,20 132,24"/>
<path d="M122,22 Q115,23 109,28"/>
<path d="M122.5,26 Q126,27 129,32"/>
<path d="M123,30 L116,34"/>
<path d="M122,18 Q115,19 110,22"/>
</g>
<path d="M124,59.8 L166.5,59.8" stroke="#1e2a16" stroke-width="0.9"/>
<path d="M48,135.3 L72,135.3" stroke="#1e2a16" stroke-width="0.9"/>
</g><g clip-path="url(#cbp)"><g filter="url(#bl)">
<rect x="52" y="191" width="113" height="190" fill="#2b2119"/>
<rect x="52" y="191" width="26" height="190" fill="#1d1a15"/>
<rect x="52" y="191" width="7" height="190" fill="#121010"/>
<rect x="76" y="191" width="30" height="190" fill="url(#gray)"/>
<path d="M76,230 L80,230 L80,300 L76,300 Z" fill="#2c2a22" opacity="0.6"/>
<rect x="101" y="191" width="7" height="190" fill="#221a14"/>
<path d="M96,300 L106,290 L106,381 L98,381 Z" fill="#9a9488" opacity="0.7"/>
<path d="M88,191 L104,191 L102,226 L88,226 Z" fill="#3a3a2a"/>
<path d="M57,191 L74,191 L76,204 L74,214 L58,214 Z" fill="#47382a"/>
<path d="M74,191 L82,191 L77,210 L72,210 Z" fill="#8b9450" opacity="0.85"/>
<path d="M93,191 L98,191 L95,222 L92,222 Z" fill="#6b7a44"/>
<path d="M80,191 L84,191 L80,205 Z" fill="#a7b070" opacity="0.8"/>
<path d="M59,212 L73,212 L72,235 L70,262 L68,290 L67,315 L66,330 L64,330 L63,300 L61,262 L60,235 Z" fill="#a86240"/>
<path d="M62,218 L70,218 L69,250 L65,250 Z" fill="#b86a44" opacity="0.8"/>
<path d="M64,290 L68,290 L67,330 L66,352 L64,370 L62,381 L60,381 L62,362 L64,330 Z" fill="#c9a272"/>
<path d="M88,226 L101,226 L100,242 L97,258 L94,275 L92,295 L90,310 L88,310 L88,290 L88,262 Z" fill="#9a6444"/>
<path d="M90,245 L97,245 L93,290 L89,290 Z" fill="#c08a5c" opacity="0.9"/>
<path d="M89,285 L93,285 L90,310 L88,335 L86,356 L84,356 L86,335 L88,310 Z" fill="#ccb080"/>
<path d="M81,327 L89,322 L92,329 L84,336 Z" fill="#8a8c6c"/>
<rect x="106" y="191" width="59" height="190" fill="#2a1f17"/>
<rect x="105" y="226" width="7" height="120" fill="#141010"/>
<rect x="132" y="226" width="6" height="130" fill="#1a1412"/>
<path d="M108,217 Q108,206.5 120.5,206.5 Q133,206.5 133.5,217 L135.5,290 L137,330 Q136,346 131,349 Q122,350 119,330 L113,280 Z" fill="url(#car)"/>
<path d="M110,208 Q120,204 132,210 L132,224 L110,222 Z" fill="#a5623e" opacity="0.75"/>
<path d="M135,225 Q135,214.5 148,214.5 Q161,214.5 161,225 L162,300 L161,345 Q158,368 149,369 Q141,366 140,340 L137.5,290 Z" fill="url(#car)"/>
<path d="M137,216 Q148,212 160,218 L160,228 L137,228 Z" fill="#b0603c" opacity="0.55"/>
<path d="M118,191 L124,191 L125,208 L119,208 Z" fill="#c8d88a"/>
<path d="M143,191 L150,191 L150,215 L145,215 Z" fill="#c8cc90"/>
<path d="M130,347 L134,347 L137,366 L134,366 Z" fill="#a08a6a"/>
<path d="M106,342 L118,346 L122,372 L110,370 Z" fill="#6e4c32"/>
<path d="M108,300 L113,300 L113,330 L108,330 Z" fill="#5e4a38" opacity="0.7"/>
<path d="M134,372 L160,362 L166,381 L128,381 Z" fill="#6a4a32"/>
<circle cx="141" cy="345" r="3" fill="#7a5a40"/>
</g>
<g stroke="#f2b48a" stroke-width="0.9" opacity="0.65" stroke-linecap="round">
<path d="M115,222 L121,221"/>
<path d="M114,232 L120,231"/>
<path d="M116,252 L123,251"/>
<path d="M117,262 L122,261"/>
<path d="M119,290 L125,289"/>
<path d="M120,310 L126,309"/>
<path d="M122,330 L127,329"/>
<path d="M146,236 L154,235"/>
<path d="M145,250 L153,249"/>
<path d="M146,266 L152,265"/>
<path d="M147,282 L153,281"/>
<path d="M147,300 L154,299"/>
<path d="M150,320 L156,319"/>
<path d="M149,338 L154,337"/>
<path d="M148,354 L152,353"/>
</g></g></svg>
<svg width="685" height="404" viewBox="0 0 685 404" style="position:absolute;left:0;top:0;filter:blur(0.35px)">
<line x1="286.62" y1="1.5" x2="286.62" y2="309.16999999999996" stroke="#efefef" stroke-width="1"/>
<line x1="251.9" y1="29.47" x2="633.8199999999999" y2="29.47" stroke="#efefef" stroke-width="1"/>
<line x1="321.34" y1="1.5" x2="321.34" y2="309.16999999999996" stroke="#efefef" stroke-width="1"/>
<line x1="251.9" y1="57.44" x2="633.8199999999999" y2="57.44" stroke="#efefef" stroke-width="1"/>
<line x1="356.06" y1="1.5" x2="356.06" y2="309.16999999999996" stroke="#efefef" stroke-width="1"/>
<line x1="251.9" y1="85.41" x2="633.8199999999999" y2="85.41" stroke="#efefef" stroke-width="1"/>
<line x1="390.78" y1="1.5" x2="390.78" y2="309.16999999999996" stroke="#efefef" stroke-width="1"/>
<line x1="251.9" y1="113.38" x2="633.8199999999999" y2="113.38" stroke="#efefef" stroke-width="1"/>
<line x1="425.50" y1="1.5" x2="425.50" y2="309.16999999999996" stroke="#efefef" stroke-width="1"/>
<line x1="251.9" y1="141.35" x2="633.8199999999999" y2="141.35" stroke="#efefef" stroke-width="1"/>
<line x1="460.22" y1="1.5" x2="460.22" y2="309.16999999999996" stroke="#efefef" stroke-width="1"/>
<line x1="251.9" y1="169.32" x2="633.8199999999999" y2="169.32" stroke="#efefef" stroke-width="1"/>
<line x1="494.94" y1="1.5" x2="494.94" y2="309.16999999999996" stroke="#efefef" stroke-width="1"/>
<line x1="251.9" y1="197.29" x2="633.8199999999999" y2="197.29" stroke="#efefef" stroke-width="1"/>
<line x1="529.66" y1="1.5" x2="529.66" y2="309.16999999999996" stroke="#efefef" stroke-width="1"/>
<line x1="251.9" y1="225.26" x2="633.8199999999999" y2="225.26" stroke="#efefef" stroke-width="1"/>
<line x1="564.38" y1="1.5" x2="564.38" y2="309.16999999999996" stroke="#efefef" stroke-width="1"/>
<line x1="251.9" y1="253.23" x2="633.8199999999999" y2="253.23" stroke="#efefef" stroke-width="1"/>
<line x1="599.10" y1="1.5" x2="599.10" y2="309.16999999999996" stroke="#efefef" stroke-width="1"/>
<line x1="251.9" y1="281.20" x2="633.8199999999999" y2="281.20" stroke="#efefef" stroke-width="1"/>
<text transform="translate(269.26 19.28) scale(1.0 1.05)" font-size="10.3" font-weight="bold" text-anchor="middle" fill="#111" stroke="#111" stroke-width="0.25">RTP</text>
<circle cx="338.70" cy="15.48" r="3.03" fill="rgb(240,240,248)"/>
<circle cx="373.42" cy="15.48" r="2.03" fill="rgb(248,248,252)"/>
<circle cx="408.14" cy="15.48" r="3.49" fill="rgb(255,235,235)"/>
<circle cx="442.86" cy="15.48" r="2.39" fill="rgb(255,246,246)"/>
<circle cx="477.58" cy="15.48" r="4.17" fill="rgb(255,227,227)"/>
<circle cx="512.30" cy="15.48" r="3.00" fill="rgb(255,240,240)"/>
<circle cx="547.02" cy="15.48" r="3.86" fill="rgb(231,231,244)"/>
<circle cx="581.74" cy="15.48" r="1.59" fill="rgb(251,251,253)"/>
<circle cx="616.46" cy="15.48" r="1.95" fill="rgb(249,249,252)"/>
<text transform="translate(303.98 47.25) scale(1.0 1.05)" font-size="10.3" font-weight="bold" text-anchor="middle" fill="#111" stroke="#111" stroke-width="0.25">CCP</text>
<circle cx="338.70" cy="43.45" r="3.60" fill="rgb(255,234,234)"/>
<circle cx="373.42" cy="43.45" r="3.54" fill="rgb(255,235,235)"/>
<circle cx="408.14" cy="43.45" r="2.98" fill="rgb(255,241,241)"/>
<circle cx="442.86" cy="43.45" r="0.69" fill="rgb(255,254,254)"/>
<circle cx="477.58" cy="43.45" r="4.54" fill="rgb(255,222,222)"/>
<path d="M477.58,40.40L477.58,43.70M476.15,41.23L479.01,42.88M479.01,41.23L476.15,42.88" stroke="#383838" stroke-width="1.0" stroke-linecap="round"/>
<circle cx="512.30" cy="43.45" r="3.35" fill="rgb(237,237,247)"/>
<circle cx="547.02" cy="43.45" r="4.54" fill="rgb(255,222,222)"/>
<path d="M547.02,40.40L547.02,43.70M545.59,41.23L548.45,42.88M548.45,41.23L545.59,42.88" stroke="#383838" stroke-width="1.0" stroke-linecap="round"/>
<circle cx="581.74" cy="43.45" r="4.87" fill="rgb(255,217,217)"/>
<path d="M581.74,40.40L581.74,43.70M580.31,41.23L583.17,42.88M583.17,41.23L580.31,42.88" stroke="#383838" stroke-width="1.0" stroke-linecap="round"/>
<circle cx="616.46" cy="43.45" r="5.03" fill="rgb(255,214,214)"/>
<path d="M616.46,40.40L616.46,43.70M615.03,41.23L617.89,42.88M617.89,41.23L615.03,42.88" stroke="#383838" stroke-width="1.0" stroke-linecap="round"/>
<text transform="translate(269.26 75.02) scale(1.0 1.1)" font-size="10.3" font-weight="normal" text-anchor="middle" fill="rgb(240,240,248)">-0.058</text>
<text transform="translate(303.98 75.02) scale(1.0 1.1)" font-size="10.3" font-weight="normal" text-anchor="middle" fill="rgb(255,234,234)">0.082</text>
<text transform="translate(338.70 75.22) scale(1.0 1.05)" font-size="10.3" font-weight="bold" text-anchor="middle" fill="#111" stroke="#111" stroke-width="0.25">ET</text>
<circle cx="373.42" cy="71.42" r="1.73" fill="rgb(250,250,253)"/>
<circle cx="408.14" cy="71.42" r="3.18" fill="rgb(239,239,248)"/>
<circle cx="442.86" cy="71.42" r="3.98" fill="rgb(230,230,243)"/>
<circle cx="477.58" cy="71.42" r="0.80" fill="rgb(255,254,254)"/>
<circle cx="512.30" cy="71.42" r="3.03" fill="rgb(240,240,248)"/>
<circle cx="547.02" cy="71.42" r="4.71" fill="rgb(255,219,219)"/>
<path d="M547.02,68.37L547.02,71.67M545.59,69.20L548.45,70.85M548.45,69.20L545.59,70.85" stroke="#383838" stroke-width="1.0" stroke-linecap="round"/>
<circle cx="581.74" cy="71.42" r="4.54" fill="rgb(255,222,222)"/>
<circle cx="616.46" cy="71.42" r="4.71" fill="rgb(255,219,219)"/>
<path d="M616.46,68.37L616.46,71.67M615.03,69.20L617.89,70.85M617.89,69.20L615.03,70.85" stroke="#383838" stroke-width="1.0" stroke-linecap="round"/>
<text transform="translate(269.26 102.99) scale(1.0 1.1)" font-size="10.3" font-weight="normal" text-anchor="middle" fill="rgb(248,248,252)">-0.026</text>
<text transform="translate(303.98 102.99) scale(1.0 1.1)" font-size="10.3" font-weight="normal" text-anchor="middle" fill="rgb(255,235,235)">0.079</text>
<text transform="translate(338.70 102.99) scale(1.0 1.1)" font-size="10.3" font-weight="normal" text-anchor="middle" fill="rgb(250,250,253)">-0.019</text>
<text transform="translate(373.42 103.19) scale(1.0 1.05)" font-size="10.3" font-weight="bold" text-anchor="middle" fill="#111" stroke="#111" stroke-width="0.25">FRC</text>
<circle cx="408.14" cy="99.39" r="5.19" fill="rgb(212,212,235)"/>
<path d="M405.69,96.34L405.69,99.64M404.26,97.17L407.12,98.82M407.12,97.17L404.26,98.82" stroke="#383838" stroke-width="1.0" stroke-linecap="round"/>
<path d="M410.59,96.34L410.59,99.64M409.16,97.17L412.02,98.82M412.02,97.17L409.16,98.82" stroke="#383838" stroke-width="1.0" stroke-linecap="round"/>
<circle cx="442.86" cy="99.39" r="5.49" fill="rgb(207,207,233)"/>
<path d="M440.41,96.34L440.41,99.64M438.98,97.17L441.84,98.82M441.84,97.17L438.98,98.82" stroke="#383838" stroke-width="1.0" stroke-linecap="round"/>
<path d="M445.31,96.34L445.31,99.64M443.88,97.17L446.74,98.82M446.74,97.17L443.88,98.82" stroke="#383838" stroke-width="1.0" stroke-linecap="round"/>
<circle cx="477.58" cy="99.39" r="4.17" fill="rgb(227,227,242)"/>
<circle cx="512.30" cy="99.39" r="1.49" fill="rgb(255,251,251)"/>
<circle cx="547.02" cy="99.39" r="2.90" fill="rgb(255,241,241)"/>
<circle cx="581.74" cy="99.39" r="0.80" fill="rgb(255,254,254)"/>
<circle cx="616.46" cy="99.39" r="2.29" fill="rgb(255,247,247)"/>
<text transform="translate(269.26 130.96) scale(1.0 1.1)" font-size="10.3" font-weight="normal" text-anchor="middle" fill="rgb(255,235,235)">0.077</text>
<text transform="translate(303.98 130.96) scale(1.0 1.1)" font-size="10.3" font-weight="normal" text-anchor="middle" fill="rgb(255,241,241)">0.056</text>
<text transform="translate(338.70 130.96) scale(1.0 1.1)" font-size="10.3" font-weight="normal" text-anchor="middle" fill="rgb(239,239,248)">-0.064</text>
<text transform="translate(373.42 130.96) scale(1.0 1.1)" font-size="10.3" font-weight="normal" text-anchor="middle" fill="rgb(212,212,235)">-0.17</text>
<text transform="translate(408.14 131.16) scale(1.0 1.05)" font-size="10.3" font-weight="bold" text-anchor="middle" fill="#111" stroke="#111" stroke-width="0.25">RT</text>
<circle cx="442.86" cy="127.36" r="11.12" fill="rgb(255,56,56)"/>
<path d="M440.41,124.31L440.41,127.61M438.98,125.14L441.84,126.79M441.84,125.14L438.98,126.79" stroke="#383838" stroke-width="1.0" stroke-linecap="round"/>
<path d="M445.31,124.31L445.31,127.61M443.88,125.14L446.74,126.79M446.74,125.14L443.88,126.79" stroke="#383838" stroke-width="1.0" stroke-linecap="round"/>
<circle cx="477.58" cy="127.36" r="7.34" fill="rgb(255,168,168)"/>
<path d="M475.13,124.31L475.13,127.61M473.70,125.14L476.56,126.79M476.56,125.14L473.70,126.79" stroke="#383838" stroke-width="1.0" stroke-linecap="round"/>
<path d="M480.03,124.31L480.03,127.61M478.60,125.14L481.46,126.79M481.46,125.14L478.60,126.79" stroke="#383838" stroke-width="1.0" stroke-linecap="round"/>
<circle cx="512.30" cy="127.36" r="5.03" fill="rgb(255,214,214)"/>
<path d="M512.30,124.31L512.30,127.61M510.87,125.14L513.73,126.79M513.73,125.14L510.87,126.79" stroke="#383838" stroke-width="1.0" stroke-linecap="round"/>
<circle cx="547.02" cy="127.36" r="3.00" fill="rgb(240,240,248)"/>
<circle cx="581.74" cy="127.36" r="3.23" fill="rgb(255,238,238)"/>
<circle cx="616.46" cy="127.36" r="2.35" fill="rgb(255,246,246)"/>
<text transform="translate(269.26 158.93) scale(1.0 1.1)" font-size="10.3" font-weight="normal" text-anchor="middle" fill="rgb(255,246,246)">0.036</text>
<text transform="translate(338.70 158.93) scale(1.0 1.1)" font-size="10.3" font-weight="normal" text-anchor="middle" fill="rgb(230,230,243)">-0.10</text>
<text transform="translate(373.42 158.93) scale(1.0 1.1)" font-size="10.3" font-weight="normal" text-anchor="middle" fill="rgb(207,207,233)">-0.19</text>
<text transform="translate(408.14 158.93) scale(1.0 1.1)" font-size="10.3" font-weight="normal" text-anchor="middle" fill="rgb(255,56,56)">0.78</text>
<text transform="translate(442.86 159.13) scale(1.0 1.05)" font-size="10.3" font-weight="bold" text-anchor="middle" fill="#111" stroke="#111" stroke-width="0.25">CCT</text>
<circle cx="477.58" cy="155.33" r="8.16" fill="rgb(255,148,148)"/>
<path d="M475.13,152.28L475.13,155.58M473.70,153.11L476.56,154.76M476.56,153.11L473.70,154.76" stroke="#383838" stroke-width="1.0" stroke-linecap="round"/>
<path d="M480.03,152.28L480.03,155.58M478.60,153.11L481.46,154.76M481.46,153.11L478.60,154.76" stroke="#383838" stroke-width="1.0" stroke-linecap="round"/>
<circle cx="512.30" cy="155.33" r="5.03" fill="rgb(255,214,214)"/>
<path d="M512.30,152.28L512.30,155.58M510.87,153.11L513.73,154.76M513.73,153.11L510.87,154.76" stroke="#383838" stroke-width="1.0" stroke-linecap="round"/>
<circle cx="547.02" cy="155.33" r="3.06" fill="rgb(240,240,248)"/>
<circle cx="581.74" cy="155.33" r="3.42" fill="rgb(255,236,236)"/>
<circle cx="616.46" cy="155.33" r="2.84" fill="rgb(255,242,242)"/>
<text transform="translate(269.26 186.90) scale(1.0 1.1)" font-size="10.3" font-weight="normal" text-anchor="middle" fill="rgb(255,227,227)">0.11</text>
<text transform="translate(303.98 186.90) scale(1.0 1.1)" font-size="10.3" font-weight="normal" text-anchor="middle" fill="rgb(255,222,222)">0.13</text>
<text transform="translate(373.42 186.90) scale(1.0 1.1)" font-size="10.3" font-weight="normal" text-anchor="middle" fill="rgb(227,227,242)">-0.11</text>
<text transform="translate(408.14 186.90) scale(1.0 1.1)" font-size="10.3" font-weight="normal" text-anchor="middle" fill="rgb(255,168,168)">0.34</text>
<text transform="translate(442.86 186.90) scale(1.0 1.1)" font-size="10.3" font-weight="normal" text-anchor="middle" fill="rgb(255,148,148)">0.42</text>
<text transform="translate(477.58 187.10) scale(1.0 1.05)" font-size="10.3" font-weight="bold" text-anchor="middle" fill="#111" stroke="#111" stroke-width="0.25">SRW</text>
<circle cx="512.30" cy="183.30" r="2.03" fill="rgb(248,248,252)"/>
<circle cx="547.02" cy="183.30" r="3.33" fill="rgb(237,237,247)"/>
<circle cx="581.74" cy="183.30" r="2.25" fill="rgb(255,247,247)"/>
<circle cx="616.46" cy="183.30" r="0.56" fill="rgb(255,254,254)"/>
<text transform="translate(269.26 214.87) scale(1.0 1.1)" font-size="10.3" font-weight="normal" text-anchor="middle" fill="rgb(255,240,240)">0.057</text>
<text transform="translate(303.98 214.87) scale(1.0 1.1)" font-size="10.3" font-weight="normal" text-anchor="middle" fill="rgb(237,237,247)">-0.071</text>
<text transform="translate(338.70 214.87) scale(1.0 1.1)" font-size="10.3" font-weight="normal" text-anchor="middle" fill="rgb(240,240,248)">-0.058</text>
<text transform="translate(373.42 214.87) scale(1.0 1.1)" font-size="10.3" font-weight="normal" text-anchor="middle" fill="rgb(255,251,251)">0.014</text>
<text transform="translate(408.14 214.87) scale(1.0 1.1)" font-size="10.3" font-weight="normal" text-anchor="middle" fill="rgb(255,214,214)">0.16</text>
<text transform="translate(442.86 214.87) scale(1.0 1.1)" font-size="10.3" font-weight="normal" text-anchor="middle" fill="rgb(255,214,214)">0.16</text>
<text transform="translate(477.58 214.87) scale(1.0 1.1)" font-size="10.3" font-weight="normal" text-anchor="middle" fill="rgb(248,248,252)">-0.026</text>
<text transform="translate(512.30 215.07) scale(1.0 1.05)" font-size="10.3" font-weight="bold" text-anchor="middle" fill="#111" stroke="#111" stroke-width="0.25">BT</text>
<circle cx="547.02" cy="211.27" r="7.86" fill="rgb(255,156,156)"/>
<path d="M544.57,208.22L544.57,211.52M543.14,209.05L546.00,210.70M546.00,209.05L543.14,210.70" stroke="#383838" stroke-width="1.0" stroke-linecap="round"/>
<path d="M549.47,208.22L549.47,211.52M548.04,209.05L550.90,210.70M550.90,209.05L548.04,210.70" stroke="#383838" stroke-width="1.0" stroke-linecap="round"/>
<circle cx="581.74" cy="211.27" r="7.96" fill="rgb(255,153,153)"/>
<path d="M579.29,208.22L579.29,211.52M577.86,209.05L580.72,210.70M580.72,209.05L577.86,210.70" stroke="#383838" stroke-width="1.0" stroke-linecap="round"/>
<path d="M584.19,208.22L584.19,211.52M582.76,209.05L585.62,210.70M585.62,209.05L582.76,210.70" stroke="#383838" stroke-width="1.0" stroke-linecap="round"/>
<circle cx="616.46" cy="211.27" r="7.23" fill="rgb(255,171,171)"/>
<path d="M614.01,208.22L614.01,211.52M612.58,209.05L615.44,210.70M615.44,209.05L612.58,210.70" stroke="#383838" stroke-width="1.0" stroke-linecap="round"/>
<path d="M618.91,208.22L618.91,211.52M617.48,209.05L620.34,210.70M620.34,209.05L617.48,210.70" stroke="#383838" stroke-width="1.0" stroke-linecap="round"/>
<text transform="translate(269.26 242.84) scale(1.0 1.1)" font-size="10.3" font-weight="normal" text-anchor="middle" fill="rgb(231,231,244)">-0.094</text>
<text transform="translate(303.98 242.84) scale(1.0 1.1)" font-size="10.3" font-weight="normal" text-anchor="middle" fill="rgb(255,222,222)">0.13</text>
<text transform="translate(338.70 242.84) scale(1.0 1.1)" font-size="10.3" font-weight="normal" text-anchor="middle" fill="rgb(255,219,219)">0.14</text>
<text transform="translate(373.42 242.84) scale(1.0 1.1)" font-size="10.3" font-weight="normal" text-anchor="middle" fill="rgb(255,241,241)">0.053</text>
<text transform="translate(408.14 242.84) scale(1.0 1.1)" font-size="10.3" font-weight="normal" text-anchor="middle" fill="rgb(240,240,248)">-0.057</text>
<text transform="translate(442.86 242.84) scale(1.0 1.1)" font-size="10.3" font-weight="normal" text-anchor="middle" fill="rgb(240,240,248)">-0.059</text>
<text transform="translate(477.58 242.84) scale(1.0 1.1)" font-size="10.3" font-weight="normal" text-anchor="middle" fill="rgb(237,237,247)">-0.070</text>
<text transform="translate(512.30 242.84) scale(1.0 1.1)" font-size="10.3" font-weight="normal" text-anchor="middle" fill="rgb(255,156,156)">0.39</text>
<text transform="translate(547.02 243.04) scale(1.0 1.05)" font-size="10.3" font-weight="bold" text-anchor="middle" fill="#111" stroke="#111" stroke-width="0.25">BR</text>
<circle cx="581.74" cy="239.24" r="11.19" fill="rgb(255,54,54)"/>
<path d="M579.29,236.19L579.29,239.49M577.86,237.02L580.72,238.67M580.72,237.02L577.86,238.67" stroke="#383838" stroke-width="1.0" stroke-linecap="round"/>
<path d="M584.19,236.19L584.19,239.49M582.76,237.02L585.62,238.67M585.62,237.02L582.76,238.67" stroke="#383838" stroke-width="1.0" stroke-linecap="round"/>
<circle cx="616.46" cy="239.24" r="11.60" fill="rgb(255,38,38)"/>
<path d="M614.01,236.19L614.01,239.49M612.58,237.02L615.44,238.67M615.44,237.02L612.58,238.67" stroke="#383838" stroke-width="1.0" stroke-linecap="round"/>
<path d="M618.91,236.19L618.91,239.49M617.48,237.02L620.34,238.67M620.34,237.02L617.48,238.67" stroke="#383838" stroke-width="1.0" stroke-linecap="round"/>
<text transform="translate(269.26 270.81) scale(1.0 1.1)" font-size="10.3" font-weight="normal" text-anchor="middle" fill="rgb(251,251,253)">-0.016</text>
<text transform="translate(303.98 270.81) scale(1.0 1.1)" font-size="10.3" font-weight="normal" text-anchor="middle" fill="rgb(255,217,217)">0.15</text>
<text transform="translate(338.70 270.81) scale(1.0 1.1)" font-size="10.3" font-weight="normal" text-anchor="middle" fill="rgb(255,222,222)">0.13</text>
<text transform="translate(408.14 270.81) scale(1.0 1.1)" font-size="10.3" font-weight="normal" text-anchor="middle" fill="rgb(255,238,238)">0.066</text>
<text transform="translate(442.86 270.81) scale(1.0 1.1)" font-size="10.3" font-weight="normal" text-anchor="middle" fill="rgb(255,236,236)">0.074</text>
<text transform="translate(477.58 270.81) scale(1.0 1.1)" font-size="10.3" font-weight="normal" text-anchor="middle" fill="rgb(255,247,247)">0.032</text>
<text transform="translate(512.30 270.81) scale(1.0 1.1)" font-size="10.3" font-weight="normal" text-anchor="middle" fill="rgb(255,153,153)">0.40</text>
<text transform="translate(547.02 270.81) scale(1.0 1.1)" font-size="10.3" font-weight="normal" text-anchor="middle" fill="rgb(255,54,54)">0.79</text>
<text transform="translate(581.74 271.01) scale(1.0 1.05)" font-size="10.3" font-weight="bold" text-anchor="middle" fill="#111" stroke="#111" stroke-width="0.25">BH</text>
<circle cx="616.46" cy="267.21" r="12.46" fill="rgb(255,5,5)"/>
<path d="M614.01,264.17L614.01,267.46M612.58,264.99L615.44,266.64M615.44,264.99L612.58,266.64" stroke="#383838" stroke-width="1.0" stroke-linecap="round"/>
<path d="M618.91,264.17L618.91,267.46M617.48,264.99L620.34,266.64M620.34,264.99L617.48,266.64" stroke="#383838" stroke-width="1.0" stroke-linecap="round"/>
<text transform="translate(269.26 298.78) scale(1.0 1.1)" font-size="10.3" font-weight="normal" text-anchor="middle" fill="rgb(249,249,252)">-0.024</text>
<text transform="translate(303.98 298.78) scale(1.0 1.1)" font-size="10.3" font-weight="normal" text-anchor="middle" fill="rgb(255,214,214)">0.16</text>
<text transform="translate(338.70 298.78) scale(1.0 1.1)" font-size="10.3" font-weight="normal" text-anchor="middle" fill="rgb(255,219,219)">0.14</text>
<text transform="translate(373.42 298.78) scale(1.0 1.1)" font-size="10.3" font-weight="normal" text-anchor="middle" fill="rgb(255,247,247)">0.033</text>
<text transform="translate(408.14 298.78) scale(1.0 1.1)" font-size="10.3" font-weight="normal" text-anchor="middle" fill="rgb(255,246,246)">0.035</text>
<text transform="translate(442.86 298.78) scale(1.0 1.1)" font-size="10.3" font-weight="normal" text-anchor="middle" fill="rgb(255,242,242)">0.051</text>
<text transform="translate(512.30 298.78) scale(1.0 1.1)" font-size="10.3" font-weight="normal" text-anchor="middle" fill="rgb(255,171,171)">0.33</text>
<text transform="translate(547.02 298.78) scale(1.0 1.1)" font-size="10.3" font-weight="normal" text-anchor="middle" fill="rgb(255,38,38)">0.85</text>
<text transform="translate(581.74 298.78) scale(1.0 1.1)" font-size="10.3" font-weight="normal" text-anchor="middle" fill="rgb(255,5,5)">0.98</text>
<text transform="translate(616.46 298.98) scale(1.0 1.05)" font-size="10.3" font-weight="bold" text-anchor="middle" fill="#111" stroke="#111" stroke-width="0.25">BS</text>
<rect x="252" y="2" width="382" height="306.8" fill="none" stroke="#3c3c3c" stroke-width="1.8"/>
<text transform="translate(245.00 20.38) scale(1.0 1.17)" font-size="13" font-weight="bold" text-anchor="end" fill="#111" stroke="#111" stroke-width="0.2">RTP</text>
<text transform="translate(245.00 48.35) scale(1.0 1.17)" font-size="13" font-weight="bold" text-anchor="end" fill="#111" stroke="#111" stroke-width="0.2">CCP</text>
<text transform="translate(245.00 76.32) scale(1.0 1.17)" font-size="13" font-weight="bold" text-anchor="end" fill="#111" stroke="#111" stroke-width="0.2">ET</text>
<text transform="translate(245.00 104.29) scale(1.0 1.17)" font-size="13" font-weight="bold" text-anchor="end" fill="#111" stroke="#111" stroke-width="0.2">FRC</text>
<text transform="translate(245.00 132.26) scale(1.0 1.17)" font-size="13" font-weight="bold" text-anchor="end" fill="#111" stroke="#111" stroke-width="0.2">RT</text>
<text transform="translate(245.00 160.23) scale(1.0 1.17)" font-size="13" font-weight="bold" text-anchor="end" fill="#111" stroke="#111" stroke-width="0.2">CCT</text>
<text transform="translate(245.00 188.20) scale(1.0 1.17)" font-size="13" font-weight="bold" text-anchor="end" fill="#111" stroke="#111" stroke-width="0.2">SRW</text>
<text transform="translate(245.00 216.17) scale(1.0 1.17)" font-size="13" font-weight="bold" text-anchor="end" fill="#111" stroke="#111" stroke-width="0.2">BT</text>
<text transform="translate(245.00 244.14) scale(1.0 1.17)" font-size="13" font-weight="bold" text-anchor="end" fill="#111" stroke="#111" stroke-width="0.2">BR</text>
<text transform="translate(245.00 272.11) scale(1.0 1.17)" font-size="13" font-weight="bold" text-anchor="end" fill="#111" stroke="#111" stroke-width="0.2">BH</text>
<text transform="translate(245.00 300.08) scale(1.0 1.17)" font-size="13" font-weight="bold" text-anchor="end" fill="#111" stroke="#111" stroke-width="0.2">BS</text>
<text transform="translate(278.76 326.00) rotate(-45) scale(1.0 1.08)" font-size="13" font-weight="bold" text-anchor="end" fill="#111" stroke="#111" stroke-width="0.3">RTP</text>
<text transform="translate(313.48 326.00) rotate(-45) scale(1.0 1.08)" font-size="13" font-weight="bold" text-anchor="end" fill="#111" stroke="#111" stroke-width="0.3">CCP</text>
<text transform="translate(348.20 326.00) rotate(-45) scale(1.0 1.08)" font-size="13" font-weight="bold" text-anchor="end" fill="#111" stroke="#111" stroke-width="0.3">ET</text>
<text transform="translate(382.92 326.00) rotate(-45) scale(1.0 1.08)" font-size="13" font-weight="bold" text-anchor="end" fill="#111" stroke="#111" stroke-width="0.3">FRC</text>
<text transform="translate(417.64 326.00) rotate(-45) scale(1.0 1.08)" font-size="13" font-weight="bold" text-anchor="end" fill="#111" stroke="#111" stroke-width="0.3">RT</text>
<text transform="translate(452.36 326.00) rotate(-45) scale(1.0 1.08)" font-size="13" font-weight="bold" text-anchor="end" fill="#111" stroke="#111" stroke-width="0.3">CCT</text>
<text transform="translate(487.08 326.00) rotate(-45) scale(1.0 1.08)" font-size="13" font-weight="bold" text-anchor="end" fill="#111" stroke="#111" stroke-width="0.3">SRW</text>
<text transform="translate(521.80 326.00) rotate(-45) scale(1.0 1.08)" font-size="13" font-weight="bold" text-anchor="end" fill="#111" stroke="#111" stroke-width="0.3">BT</text>
<text transform="translate(556.52 326.00) rotate(-45) scale(1.0 1.08)" font-size="13" font-weight="bold" text-anchor="end" fill="#111" stroke="#111" stroke-width="0.3">BR</text>
<text transform="translate(591.24 326.00) rotate(-45) scale(1.0 1.08)" font-size="13" font-weight="bold" text-anchor="end" fill="#111" stroke="#111" stroke-width="0.3">BH</text>
<text transform="translate(625.96 326.00) rotate(-45) scale(1.0 1.08)" font-size="13" font-weight="bold" text-anchor="end" fill="#111" stroke="#111" stroke-width="0.3">BS</text>
<defs><linearGradient id="cbg" x1="0" y1="0" x2="0" y2="1"><stop offset="0" stop-color="#ff0000"/><stop offset="0.5" stop-color="#ffffff"/><stop offset="1" stop-color="#00008b"/></linearGradient></defs>
<rect x="639.3" y="5" width="22.2" height="300.3" fill="url(#cbg)" stroke="#222" stroke-width="1"/>
<line x1="661.5" y1="5.00" x2="667.5" y2="5.00" stroke="#333" stroke-width="1"/>
<text transform="translate(670.80 8.60)" font-size="8.5" font-weight="bold" text-anchor="start" fill="#111" stroke="#111" stroke-width="0.25">1</text>
<line x1="661.5" y1="35.03" x2="667.5" y2="35.03" stroke="#333" stroke-width="1"/>
<text transform="translate(670.80 38.63)" font-size="8.5" font-weight="bold" text-anchor="start" fill="#111" stroke="#111" stroke-width="0.25">0.8</text>
<line x1="661.5" y1="65.06" x2="667.5" y2="65.06" stroke="#333" stroke-width="1"/>
<text transform="translate(670.80 68.66)" font-size="8.5" font-weight="bold" text-anchor="start" fill="#111" stroke="#111" stroke-width="0.25">0.6</text>
<line x1="661.5" y1="95.09" x2="667.5" y2="95.09" stroke="#333" stroke-width="1"/>
<text transform="translate(670.80 98.69)" font-size="8.5" font-weight="bold" text-anchor="start" fill="#111" stroke="#111" stroke-width="0.25">0.4</text>
<line x1="661.5" y1="125.12" x2="667.5" y2="125.12" stroke="#333" stroke-width="1"/>
<text transform="translate(670.80 128.72)" font-size="8.5" font-weight="bold" text-anchor="start" fill="#111" stroke="#111" stroke-width="0.25">0.2</text>
<line x1="661.5" y1="155.15" x2="667.5" y2="155.15" stroke="#333" stroke-width="1"/>
<text transform="translate(670.80 158.75)" font-size="8.5" font-weight="bold" text-anchor="start" fill="#111" stroke="#111" stroke-width="0.25">0</text>
<line x1="661.5" y1="185.18" x2="667.5" y2="185.18" stroke="#333" stroke-width="1"/>
<text transform="translate(670.80 188.78)" font-size="8.5" font-weight="bold" text-anchor="start" fill="#111" stroke="#111" stroke-width="0.25">-0.2</text>
<line x1="661.5" y1="215.21" x2="667.5" y2="215.21" stroke="#333" stroke-width="1"/>
<text transform="translate(670.80 218.81)" font-size="8.5" font-weight="bold" text-anchor="start" fill="#111" stroke="#111" stroke-width="0.25">-0.4</text>
<line x1="661.5" y1="245.24" x2="667.5" y2="245.24" stroke="#333" stroke-width="1"/>
<text transform="translate(670.80 248.84)" font-size="8.5" font-weight="bold" text-anchor="start" fill="#111" stroke="#111" stroke-width="0.25">-0.6</text>
<line x1="661.5" y1="275.27" x2="667.5" y2="275.27" stroke="#333" stroke-width="1"/>
<text transform="translate(670.80 278.87)" font-size="8.5" font-weight="bold" text-anchor="start" fill="#111" stroke="#111" stroke-width="0.25">-0.8</text>
<line x1="661.5" y1="305.30" x2="667.5" y2="305.30" stroke="#333" stroke-width="1"/>
<text transform="translate(670.80 308.90)" font-size="8.5" font-weight="bold" text-anchor="start" fill="#111" stroke="#111" stroke-width="0.25">-1</text>
<text transform="translate(8.30 19.60)" font-size="15.5" font-weight="bold" text-anchor="start" fill="#111" stroke="#111" stroke-width="0.25">A</text>
<text transform="translate(8.30 205.60)" font-size="15.5" font-weight="bold" text-anchor="start" fill="#111" stroke="#111" stroke-width="0.25">B</text>
<text transform="translate(190.10 16.00)" font-size="16.8" font-weight="bold" text-anchor="start" fill="#111" stroke="#111" stroke-width="0.3">C</text>
<path d="M166,59.8 L170.5,59.8" stroke="#333" stroke-width="0.9"/>
<text transform="translate(170.30 63.50) scale(1.0 1.15)" font-size="8.5" font-weight="bold" text-anchor="start" fill="#1a1a1a" stroke="#1a1a1a" stroke-width="0.22">Bolting</text>
<text transform="translate(170.30 74.20) scale(1.0 1.15)" font-size="8.5" font-weight="bold" text-anchor="start" fill="#1a1a1a" stroke="#1a1a1a" stroke-width="0.22">plant</text>
<text transform="translate(0.50 137.10) scale(1.0 1.18)" font-size="8.3" font-weight="bold" text-anchor="start" fill="#1a1a1a" stroke="#1a1a1a" stroke-width="0.22">Non-bolting</text>
<text transform="translate(0.50 147.70) scale(1.0 1.18)" font-size="8.3" font-weight="bold" text-anchor="start" fill="#1a1a1a" stroke="#1a1a1a" stroke-width="0.22">plant</text>
<path d="M43.5,135.3 L49,135.3" stroke="#444" stroke-width="0.9"/>
<text transform="translate(57.60 391.10) scale(1.0 1.12)" font-size="8.8" font-weight="bold" text-anchor="start" fill="#222" stroke="#222" stroke-width="0.22">Bolting</text>
<text transform="translate(57.60 401.20) scale(1.0 1.12)" font-size="8.8" font-weight="bold" text-anchor="start" fill="#222" stroke="#222" stroke-width="0.22">taproot</text>
<text transform="translate(110.20 391.10) scale(1.0 1.14)" font-size="8.6" font-weight="bold" text-anchor="start" fill="#222" stroke="#222" stroke-width="0.22">Non-bolting</text>
<text transform="translate(110.20 401.20) scale(1.0 1.12)" font-size="8.8" font-weight="bold" text-anchor="start" fill="#222" stroke="#222" stroke-width="0.22">taproot</text>
<text transform="translate(217.80 370.80) scale(1.0 1.03)" font-size="10.15" font-weight="normal" text-anchor="start" fill="#1a1a1a">RTP: Root tip phenotype</text>
<text transform="translate(217.80 384.80) scale(1.0 1.03)" font-size="10.15" font-weight="normal" text-anchor="start" fill="#1a1a1a">CCP: Central column phenotype</text>
<text transform="translate(217.80 398.80) scale(1.0 1.03)" font-size="10.15" font-weight="normal" text-anchor="start" fill="#1a1a1a">ET: Epidermal traits</text>
<text transform="translate(364.20 370.80) scale(1.0 1.03)" font-size="10.15" font-weight="normal" text-anchor="start" fill="#1a1a1a">FRC: Fleshy root color</text>
<text transform="translate(364.20 384.80) scale(1.0 1.03)" font-size="10.15" font-weight="normal" text-anchor="start" fill="#1a1a1a">RT: Root thick</text>
<text transform="translate(364.20 398.80) scale(1.0 1.03)" font-size="10.15" font-weight="normal" text-anchor="start" fill="#1a1a1a">CCT: Central column thick</text>
<text transform="translate(488.80 370.80) scale(1.0 1.03)" font-size="10.15" font-weight="normal" text-anchor="start" fill="#1a1a1a">SRW: Single root weight</text>
<text transform="translate(488.80 384.80) scale(1.0 1.03)" font-size="10.15" font-weight="normal" text-anchor="start" fill="#1a1a1a">BT: Bolting time</text>
<text transform="translate(488.80 398.80) scale(1.0 1.03)" font-size="10.15" font-weight="normal" text-anchor="start" fill="#1a1a1a">BR: Bolting rate</text>
<text transform="translate(603.40 370.80) scale(1.0 1.03)" font-size="10.15" font-weight="normal" text-anchor="start" fill="#1a1a1a">BH: Bolt height</text>
<text transform="translate(603.40 384.80) scale(1.0 1.03)" font-size="10.15" font-weight="normal" text-anchor="start" fill="#1a1a1a">BS: Bolting speed</text>
</svg>
</body></html>
